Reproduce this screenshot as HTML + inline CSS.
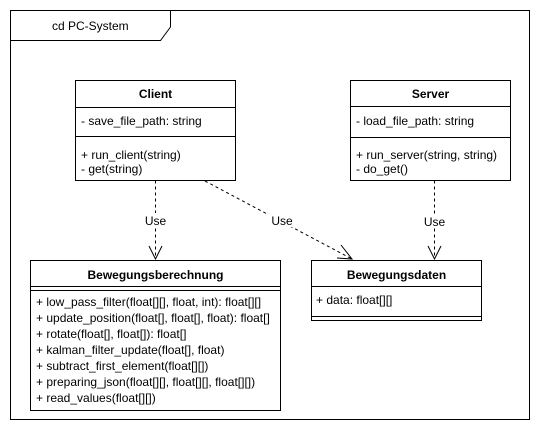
<!DOCTYPE html>
<html><head><style>
html,body{margin:0;padding:0;background:#fff;}
svg{display:block;}
text{font-family:"Liberation Sans",Arial,sans-serif;font-size:12px;fill:#000;}
.b{font-weight:bold;}
</style></head><body>
<svg width="541" height="431" viewBox="0 0 541 431" xmlns="http://www.w3.org/2000/svg">
<g fill="none" stroke="#000" stroke-width="1">
<rect x="10.5" y="10.5" width="519" height="409"/>
<path d="M10.5 40.5 H160.5 L170.5 27 V10.5"/>
<rect x="75.5" y="80.5" width="160" height="100" fill="#fff"/>
<line x1="75.5" y1="107.5" x2="235.5" y2="107.5"/>
<line x1="75.5" y1="136.5" x2="235.5" y2="136.5"/>
<rect x="350.5" y="80.5" width="160" height="100" fill="#fff"/>
<line x1="350.5" y1="106.5" x2="510.5" y2="106.5"/>
<line x1="350.5" y1="137.5" x2="510.5" y2="137.5"/>
<rect x="30.5" y="260.5" width="250" height="150" fill="#fff"/>
<line x1="30.5" y1="286.5" x2="280.5" y2="286.5"/>
<line x1="30.5" y1="290.5" x2="280.5" y2="290.5"/>
<rect x="311.5" y="260.5" width="170" height="60" fill="#fff"/>
<line x1="311.5" y1="286.5" x2="481.5" y2="286.5"/>
<line x1="311.5" y1="316.5" x2="481.5" y2="316.5"/>
<g stroke-dasharray="3,3">
<line x1="155.5" y1="180.5" x2="155.5" y2="259"/>
<line x1="205" y1="181" x2="352" y2="259"/>
<line x1="434.5" y1="180.5" x2="434.5" y2="259"/>
</g>
<path d="M149 246 L155.5 259 L162 246"/>
<path d="M341 245 L352 259 L337 258"/>
<path d="M428 246 L434.5 259 L441 246"/>
</g>
<rect x="141" y="213" width="29" height="14" fill="#fff"/>
<rect x="268" y="213" width="29" height="14" fill="#fff"/>
<rect x="420" y="214" width="29" height="14" fill="#fff"/>
<text x="155.5" y="225" text-anchor="middle">Use</text>
<text x="282" y="225" text-anchor="middle">Use</text>
<text x="434.5" y="226" text-anchor="middle">Use</text>

<text x="52" y="30">cd PC-System</text>
<text x="155.5" y="98" text-anchor="middle" class="b">Client</text>
<text x="81" y="125">- save_file_path: string</text>
<text x="81" y="159">+ run_client(string)</text>
<text x="81" y="173">- get(string)</text>

<text x="430.5" y="98" text-anchor="middle" class="b">Server</text>
<text x="356" y="125">- load_file_path: string</text>
<text x="356" y="159">+ run_server(string, string)</text>
<text x="356" y="173">- do_get()</text>

<text x="155.5" y="279" text-anchor="middle" class="b">Bewegungsberechnung</text>
<text x="36" y="306">+ low_pass_filter(float[][], float, int): float[][]</text>
<text x="36" y="322">+ update_position(float[], float[], float): float[]</text>
<text x="36" y="338">+ rotate(float[], float[]): float[]</text>
<text x="36" y="354">+ kalman_filter_update(float[], float)</text>
<text x="36" y="370">+ subtract_first_element(float[][])</text>
<text x="36" y="386">+ preparing_json(float[][], float[][], float[][])</text>
<text x="36" y="402">+ read_values(float[][])</text>

<text x="396.5" y="279" text-anchor="middle" class="b">Bewegungsdaten</text>
<text x="316" y="304">+ data: float[][]</text>
</svg>
</body></html>
